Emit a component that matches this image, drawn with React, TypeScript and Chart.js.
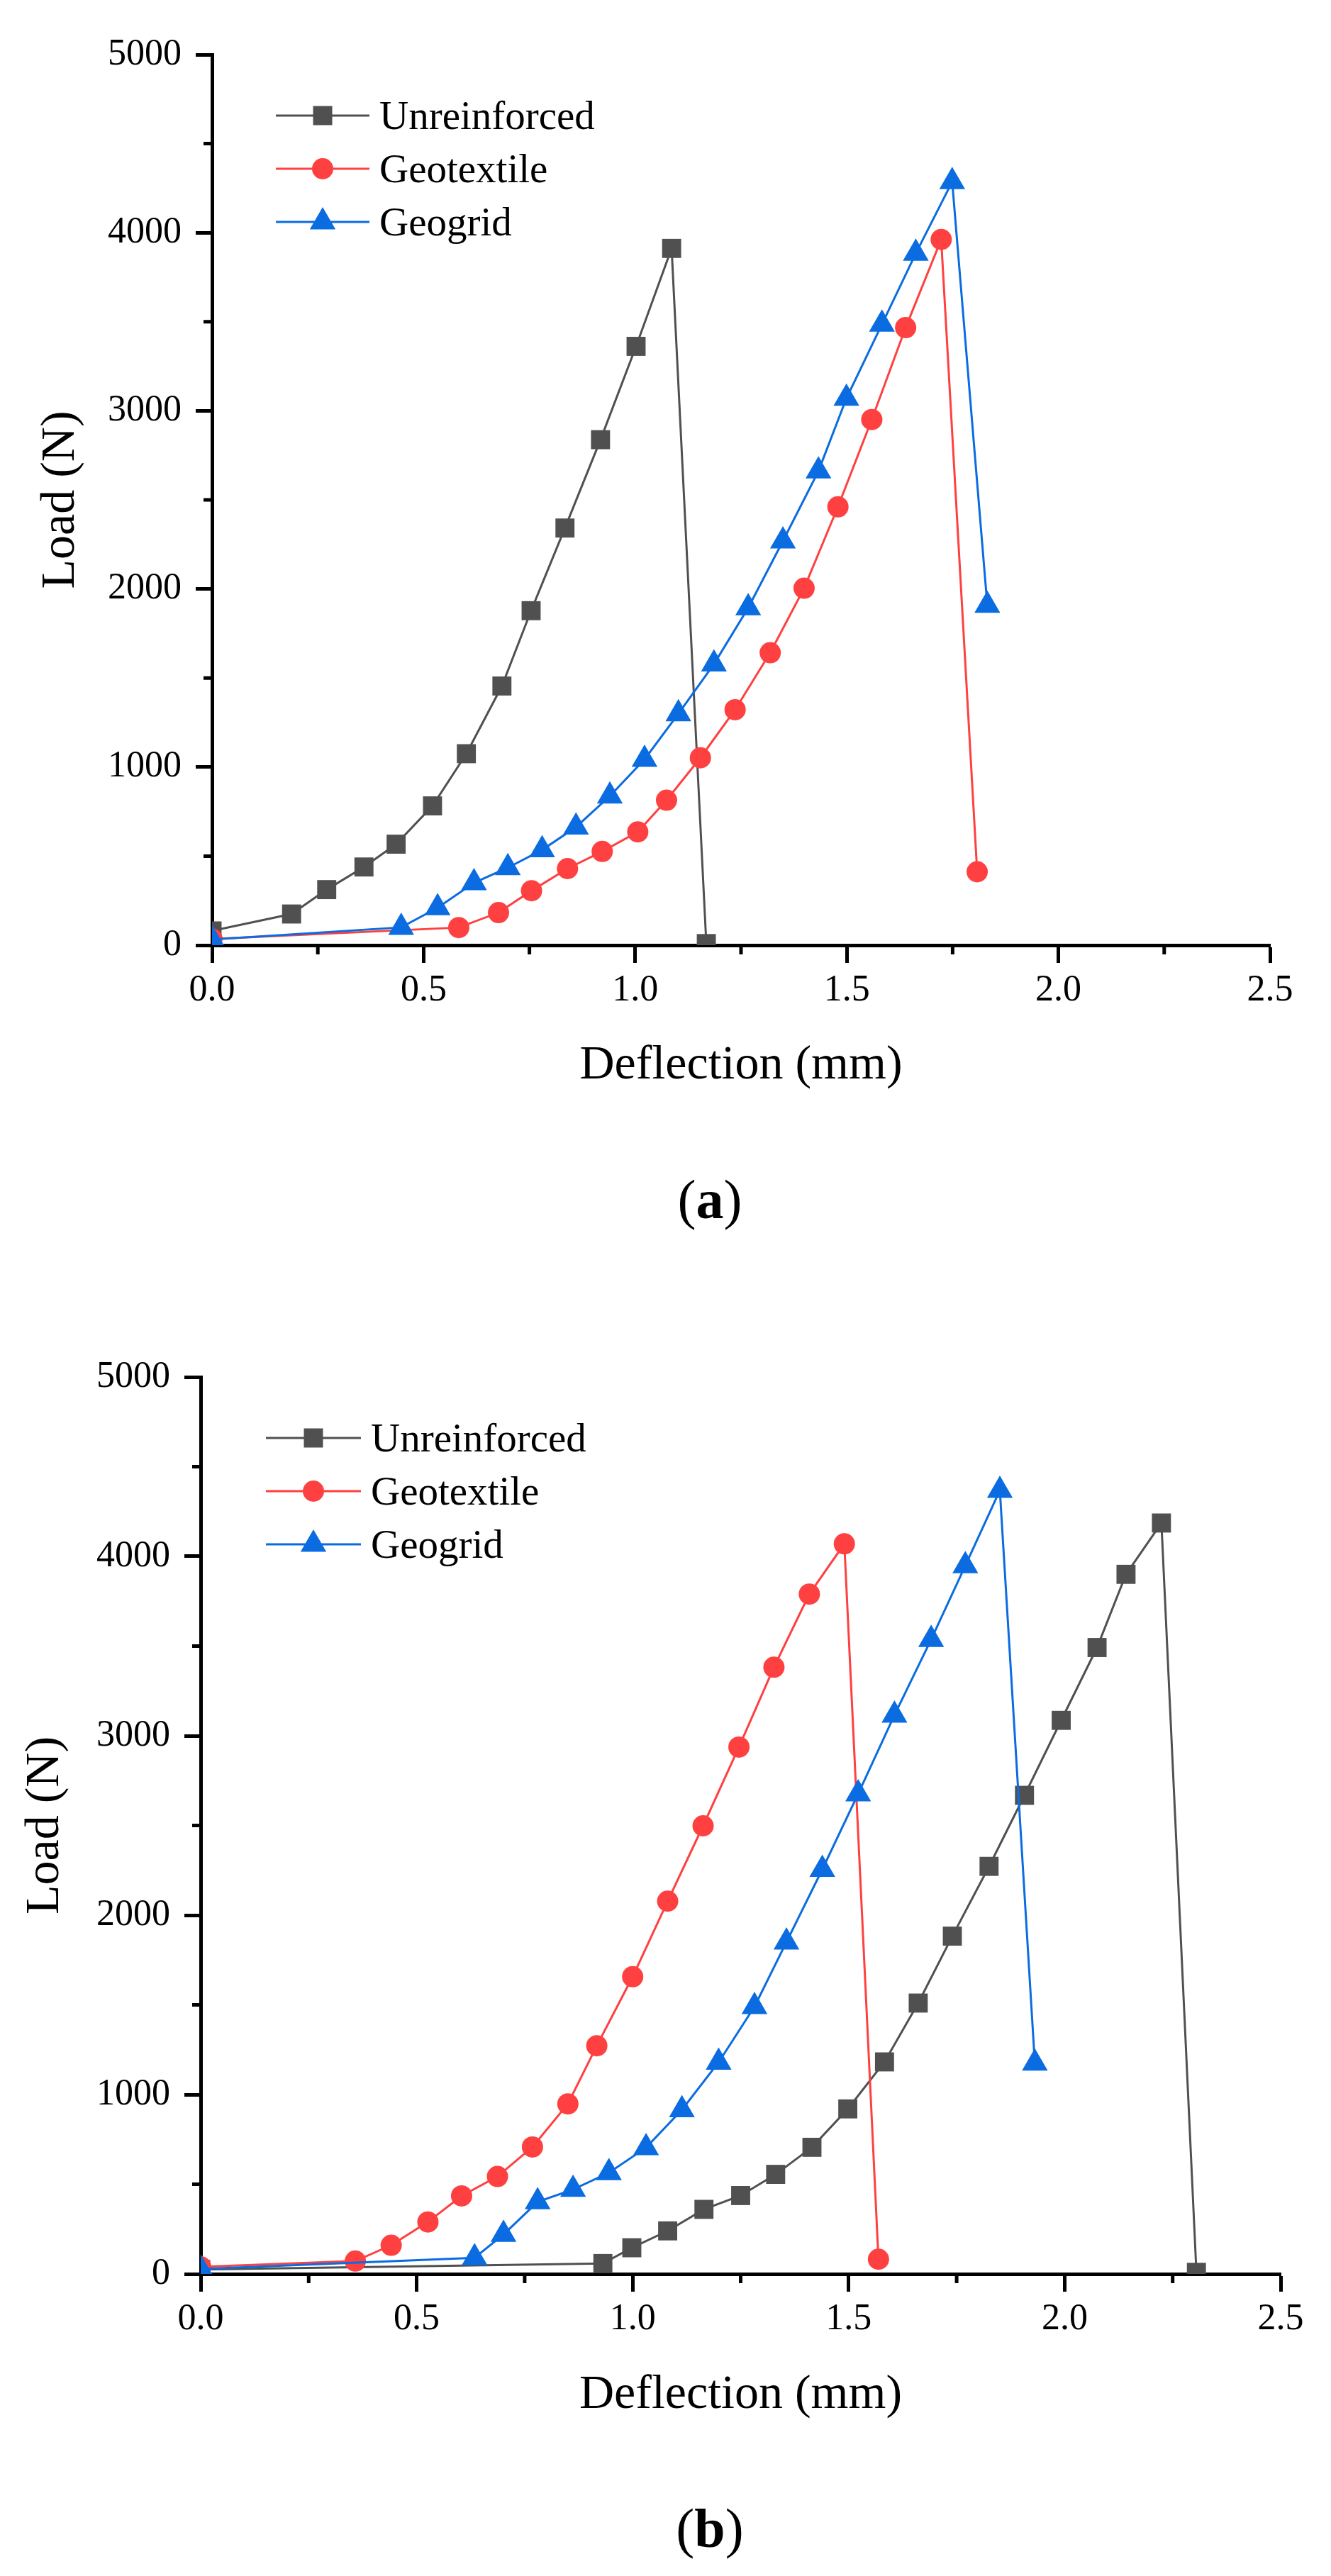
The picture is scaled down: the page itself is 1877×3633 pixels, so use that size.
import { useEffect, useRef } from "react"
import { Chart, registerables } from "chart.js"

Chart.register(...registerables)

const FONT = "'Liberation Serif', 'Times New Roman', serif"
const PAGE_W = 1877
const PANEL_H = 1816

// tick values (axis decoration)
const xMinor = [0.25, 0.75, 1.25, 1.75, 2.25]
const yMinor = [500, 1500, 2500, 3500, 4500]

// (a) load-deflection data
const unreinforcedAX = [0, 0.188, 0.271, 0.359, 0.435, 0.521, 0.601, 0.685, 0.754, 0.834, 0.918, 1.002, 1.086, 1.168]
const unreinforcedAY = [80, 175, 312, 439, 567, 782, 1075, 1455, 1878, 2342, 2838, 3362, 3912, 9]
const geotextileAX = [0, 0.583, 0.677, 0.755, 0.84, 0.922, 1.006, 1.074, 1.154, 1.236, 1.319, 1.399, 1.479, 1.559, 1.639, 1.723, 1.808]
const geotextileAY = [35, 99, 183, 306, 430, 526, 636, 814, 1052, 1322, 1642, 2004, 2461, 2951, 3467, 3962, 412]
const geogridAX = [0, 0.447, 0.533, 0.619, 0.699, 0.78, 0.86, 0.94, 1.022, 1.102, 1.186, 1.267, 1.349, 1.433, 1.499, 1.583, 1.663, 1.749, 1.832]
const geogridAY = [32, 100, 210, 350, 435, 535, 663, 837, 1043, 1299, 1578, 1894, 2269, 2662, 3070, 3486, 3884, 4286, 1908]

// (b) load-deflection data
const unreinforcedBX = [0, 0.931, 0.998, 1.081, 1.165, 1.25, 1.331, 1.415, 1.498, 1.583, 1.661, 1.74, 1.825, 1.907, 1.992, 2.075, 2.142, 2.224, 2.305]
const unreinforcedBY = [25, 58, 146, 240, 360, 437, 555, 706, 920, 1182, 1510, 1883, 2272, 2668, 3086, 3492, 3900, 4186, 9]
const geotextileBX = [0, 0.358, 0.441, 0.526, 0.604, 0.687, 0.768, 0.85, 0.917, 1.0, 1.081, 1.163, 1.246, 1.327, 1.409, 1.49, 1.569]
const geotextileBY = [40, 72, 160, 290, 435, 543, 708, 948, 1272, 1657, 2078, 2498, 2937, 3382, 3790, 4070, 82]
const geogridBX = [0, 0.634, 0.701, 0.78, 0.862, 0.945, 1.031, 1.114, 1.199, 1.282, 1.356, 1.439, 1.522, 1.606, 1.691, 1.77, 1.85, 1.931]
const geogridBY = [28, 90, 220, 402, 471, 564, 704, 915, 1180, 1490, 1850, 2255, 2676, 3115, 3537, 3948, 4368, 1175]

const labels = ["Unreinforced", "Geotextile", "Geogrid"]
const colors = ["#505050", "#FF4040", "#0A6CE0"]
const markers = ["rect", "circle", "triangle"]
const radii = [19, 15, 21]

type Series = { x: number[]; y: number[] }

const seriesA: Series[] = [
  { x: unreinforcedAX, y: unreinforcedAY },
  { x: geotextileAX, y: geotextileAY },
  { x: geogridAX, y: geogridAY },
]
const seriesB: Series[] = [
  { x: unreinforcedBX, y: unreinforcedBY },
  { x: geotextileBX, y: geotextileBY },
  { x: geogridBX, y: geogridBY },
]

// small tick marks between the labelled ones
const minorTicks = {
  id: "minorTicks",
  afterDraw(chart: any, _args: any, opts: any) {
    const { ctx, scales } = chart
    const x = scales.x
    const y = scales.y
    ctx.save()
    ctx.strokeStyle = "#000"
    ctx.lineWidth = 5
    ctx.beginPath()
    for (const v of opts.x) {
      const px = x.getPixelForValue(v)
      ctx.moveTo(px, x.top)
      ctx.lineTo(px, x.top + 13)
    }
    for (const v of opts.y) {
      const py = y.getPixelForValue(v)
      ctx.moveTo(y.right - 12, py)
      ctx.lineTo(y.right, py)
    }
    ctx.stroke()
    ctx.restore()
  },
}

const LegendMark = ({ i, len }: { i: number; len: number }) => {
  const c = colors[i]
  const cx = len / 2
  let mark
  if (i === 0) mark = <rect x={cx - 13.5} y={16.5} width={27} height={27} fill={c} />
  else if (i === 1) mark = <circle cx={cx} cy={30} r={15} fill={c} />
  else
    mark = (
      <polygon
        points={`${cx},${30 - 21} ${cx + 18.2},${30 + 10.5} ${cx - 18.2},${30 + 10.5}`}
        fill={c}
      />
    )
  return (
    <svg width={len} height={60} style={{ display: "block" }}>
      <line x1={0} y1={30} x2={len} y2={30} stroke={c} strokeWidth={3} />
      {mark}
    </svg>
  )
}

interface PanelProps {
  top: number
  series: Series[]
  area: { left: number; right: number; top: number; bottom: number }
  yTitleX: number
  xTitleY: number
  legendX: number
  legendY: number
  legendLen: number
  caption: string
  captionY: number
}

const Panel = ({ top, series, area, yTitleX, xTitleY, legendX, legendY, legendLen, caption, captionY }: PanelProps) => {
  const canvasRef = useRef<HTMLCanvasElement>(null)

  useEffect(() => {
    if (!canvasRef.current) return
    const titleHalf = (68 * 1.2) / 2
    const chart = new Chart(canvasRef.current, {
      type: "line",
      data: {
        datasets: series.map((s, i) => ({
          label: labels[i],
          data: s.x.map((x, j) => ({ x, y: s.y[j] })),
          borderColor: colors[i],
          backgroundColor: colors[i],
          borderWidth: 3,
          pointStyle: markers[i],
          pointRadius: radii[i],
          pointHoverRadius: radii[i],
          pointBorderWidth: 0,
          tension: 0,
          order: series.length - i,
        })),
      },
      options: {
        animation: false,
        responsive: true,
        maintainAspectRatio: false,
        events: [],
        layout: { padding: { left: 0, top: area.top, right: PAGE_W - area.right, bottom: 0 } },
        plugins: {
          legend: { display: false },
          tooltip: { enabled: false },
          minorTicks: { x: xMinor, y: yMinor },
        },
        scales: {
          x: {
            type: "linear",
            min: 0,
            max: 2.5,
            afterFit: (s: any) => {
              s.height = PANEL_H - area.bottom
            },
            ticks: {
              stepSize: 0.5,
              autoSkip: false,
              maxRotation: 0,
              padding: 8,
              color: "#000",
              font: { family: FONT, size: 52 },
              callback: (v: any) => Number(v).toFixed(1),
            },
            grid: { drawOnChartArea: false, tickLength: 25, tickWidth: 5, tickColor: "#000" },
            border: { color: "#000", width: 5 },
            title: {
              display: true,
              text: "Deflection (mm)",
              color: "#000",
              font: { family: FONT, size: 68 },
              padding: { top: 0, bottom: PANEL_H - xTitleY - titleHalf },
            },
          },
          y: {
            type: "linear",
            min: 0,
            max: 5000,
            afterFit: (s: any) => {
              s.width = area.left
            },
            ticks: {
              stepSize: 1000,
              padding: 20,
              color: "#000",
              font: { family: FONT, size: 52 },
              callback: (v: any) => String(v),
            },
            grid: { drawOnChartArea: false, tickLength: 23, tickWidth: 5, tickColor: "#000" },
            border: { color: "#000", width: 5 },
            title: {
              display: true,
              text: "Load (N)",
              color: "#000",
              font: { family: FONT, size: 68 },
              padding: { top: yTitleX - titleHalf, bottom: 0 },
            },
          },
        },
      } as any,
      plugins: [minorTicks],
    })

    return () => {
      chart.destroy()
    }
  }, [series])

  return (
    <div style={{ position: "absolute", left: 0, top, width: PAGE_W, height: PANEL_H }}>
      <canvas ref={canvasRef}></canvas>
      {labels.map((lab, i) => (
        <div
          key={lab}
          style={{
            position: "absolute",
            left: legendX,
            top: legendY + i * 75 - 30,
            height: 60,
            display: "flex",
            alignItems: "center",
          }}
        >
          <LegendMark i={i} len={legendLen} />
          <span
            style={{
              marginLeft: 14,
              fontFamily: FONT,
              fontSize: 57,
              lineHeight: "60px",
              color: "#000",
              whiteSpace: "nowrap",
            }}
          >
            {lab}
          </span>
        </div>
      ))}
      <div
        style={{
          position: "absolute",
          left: 1001,
          top: captionY,
          transform: "translate(-50%, -50%)",
          fontFamily: FONT,
          fontSize: 78,
          lineHeight: 1,
          color: "#000",
          whiteSpace: "nowrap",
        }}
      >
        (<b>{caption}</b>)
      </div>
    </div>
  )
}

export default function App() {
  return (
    <div style={{ position: "absolute", left: 0, top: 0, width: PAGE_W, height: 3633, background: "#fff" }}>
      <Panel
        top={0}
        series={seriesA}
        area={{ left: 299, right: 1791, top: 77, bottom: 1333 }}
        yTitleX={86}
        xTitleY={1503}
        legendX={389}
        legendY={163}
        legendLen={132}
        caption="a"
        captionY={1692}
      />
      <Panel
        top={1816}
        series={seriesB}
        area={{ left: 283, right: 1806, top: 126, bottom: 1391 }}
        yTitleX={64}
        xTitleY={1562}
        legendX={375}
        legendY={212}
        legendLen={134}
        caption="b"
        captionY={1750}
      />
    </div>
  )
}
